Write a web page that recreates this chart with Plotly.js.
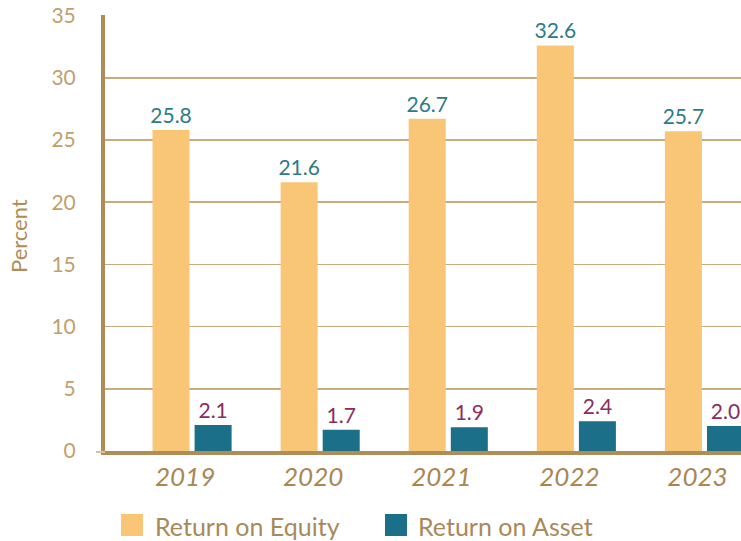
<!DOCTYPE html>
<html>
<head>
<meta charset="utf-8">
<script src="https://cdn.plot.ly/plotly-3.0.1.min.js"></script>
<style>html,body{margin:0;padding:0;background:#fff;}#chart{width:741px;height:541px;}</style>
</head>
<body>
<div id="chart"></div>
<script>
var years = ["2019", "2020", "2021", "2022", "2023"];
var roe = [25.8, 21.6, 26.7, 32.6, 25.7];
var roa = [2.1, 1.7, 1.9, 2.4, 2.0];
var seriesNames = ["Return on Equity", "Return on Asset"];
var yTicks = [0, 5, 10, 15, 20, 25, 30, 35];

var FONT = "Lato, 'Open Sans', sans-serif";
var TAN = "#b08d57";
var ROE_COLOR = "#f9c677";
var ROA_COLOR = "#1b6f89";

var traces = [
  {
    type: "bar", x: years, y: roe, name: seriesNames[0],
    marker: {color: ROE_COLOR}, offset: -0.309, width: 0.289,
    text: roe.map(function(v){return v.toFixed(1);}), textposition: "outside",
    constraintext: "none",
    textfont: {family: FONT, size: 21, color: "#2e7c83"}, cliponaxis: false,
    showlegend: false, hoverinfo: "none"
  },
  {
    type: "bar", x: years, y: roa, name: seriesNames[1],
    marker: {color: ROA_COLOR}, offset: 0.0195, width: 0.289,
    text: roa.map(function(v){return v.toFixed(1);}), textposition: "outside",
    constraintext: "none",
    textfont: {family: FONT, size: 21, color: "#8b2d5a"}, cliponaxis: false,
    showlegend: false, hoverinfo: "none"
  }
];

function px(x){ return (x - 105) / 636; }
function py(y){ return (451 - y) / 436; }

var layout = {
  width: 741, height: 541,
  margin: {l: 105, r: 0, t: 15, b: 90},
  paper_bgcolor: "#ffffff", plot_bgcolor: "#ffffff",
  barmode: "overlay",
  font: {family: FONT, color: TAN},
  showlegend: false,
  xaxis: {
    type: "category", range: [-0.68, 4.285],
    showgrid: false, zeroline: false,
    showline: true, linecolor: TAN, linewidth: 4,
    ticks: "", ticklabelstandoff: 0, ticklabelshift: -7,
    tickfont: {family: FONT, size: 26, color: "#a98654", style: "italic"}
  },
  yaxis: {
    range: [0, 35.05], tickvals: yTicks, ticktext: yTicks.map(String),
    showgrid: true, gridcolor: "#c9aa7c", gridwidth: 1.5,
    zeroline: false, showline: true, linecolor: TAN, linewidth: 4,
    ticks: "", ticklabelstandoff: 21,
    tickfont: {family: FONT, size: 21, color: "#bf9f6d"}
  },
  shapes: [
    {type: "line", xref: "paper", yref: "paper", x0: px(96), x1: px(105), y0: py(452), y1: py(452),
     line: {color: "#d8c3a0", width: 2}},
    {type: "rect", xref: "paper", yref: "paper", x0: px(121), x1: px(143), y0: py(536), y1: py(514),
     fillcolor: ROE_COLOR, line: {width: 0}},
    {type: "rect", xref: "paper", yref: "paper", x0: px(385), x1: px(407), y0: py(536), y1: py(514),
     fillcolor: ROA_COLOR, line: {width: 0}}
  ],
  annotations: [
    {xref: "paper", yref: "paper", x: px(18), y: py(236), text: "Percent", textangle: -90,
     showarrow: false, xanchor: "center", yanchor: "middle",
     font: {family: FONT, size: 22, color: TAN}},
    {xref: "paper", yref: "paper", x: px(153), y: py(526), text: seriesNames[0],
     showarrow: false, xanchor: "left", yanchor: "middle",
     font: {family: FONT, size: 25, color: "#a9895a"}},
    {xref: "paper", yref: "paper", x: px(416), y: py(526), text: seriesNames[1],
     showarrow: false, xanchor: "left", yanchor: "middle",
     font: {family: FONT, size: 25, color: "#a9895a"}}
  ]
};

Plotly.newPlot("chart", traces, layout, {displayModeBar: false, staticPlot: true});
</script>
</body>
</html>
